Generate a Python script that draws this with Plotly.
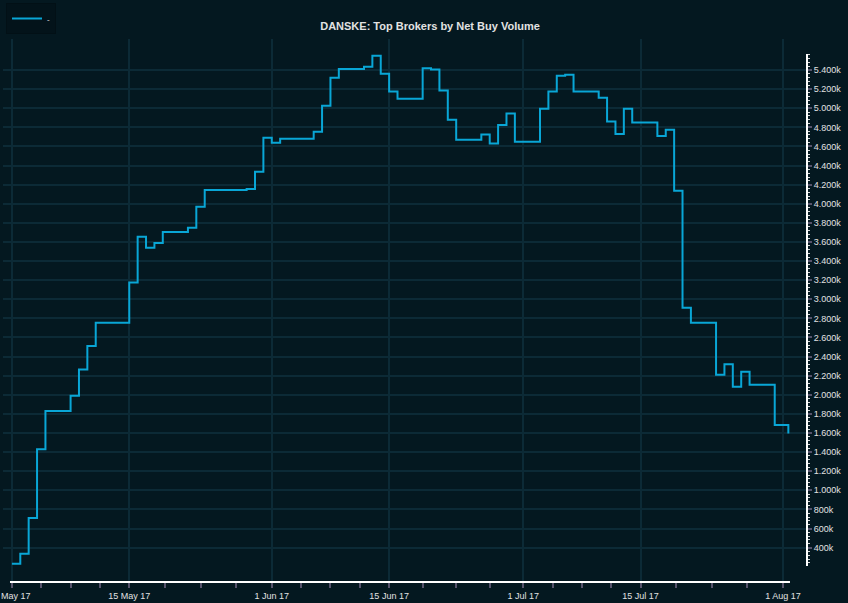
import plotly.graph_objects as go
import pandas as pd
import numpy as np

# ---- data ----
dates = [
    "2017-05-01", "2017-05-02", "2017-05-03", "2017-05-04", "2017-05-05",
    "2017-05-08", "2017-05-09", "2017-05-10", "2017-05-11",
    "2017-05-15", "2017-05-16", "2017-05-17", "2017-05-18", "2017-05-19",
    "2017-05-22", "2017-05-23", "2017-05-24",
    "2017-05-29", "2017-05-30", "2017-05-31", "2017-06-01", "2017-06-02",
    "2017-06-06", "2017-06-07", "2017-06-08", "2017-06-09",
    "2017-06-12", "2017-06-13", "2017-06-14", "2017-06-15", "2017-06-16",
    "2017-06-19", "2017-06-20", "2017-06-21", "2017-06-22", "2017-06-23",
    "2017-06-26", "2017-06-27", "2017-06-28", "2017-06-29", "2017-06-30",
    "2017-07-03", "2017-07-04", "2017-07-05", "2017-07-06", "2017-07-07",
    "2017-07-10", "2017-07-11", "2017-07-12", "2017-07-13", "2017-07-14",
    "2017-07-17", "2017-07-18", "2017-07-19", "2017-07-20", "2017-07-21",
    "2017-07-24", "2017-07-25", "2017-07-26", "2017-07-27", "2017-07-28",
    "2017-07-31", "2017-08-01 15:00",
]
net_buy_volume = [
    230, 335, 710, 1430, 1830,
    1990, 2265, 2510, 2755,
    3175, 3655, 3540, 3590, 3705,
    3750, 3970, 4145,
    4155, 4335, 4690, 4640, 4680,
    4755, 5025, 5320, 5410,
    5435, 5550, 5360, 5175, 5100,
    5420, 5405, 5185, 4880, 4670,
    4725, 4630, 4825, 4945, 4650,
    4995, 5175, 5340, 5350, 5175,
    5110, 4860, 4730, 4995, 4850,
    4710, 4775, 4135, 2910, 2755,
    2210, 2320, 2085, 2240, 2105,
    1685, 1595,
]
series_name = "-"
title_text = "DANSKE: Top Brokers by Net Buy Volume"

x_tick_dates = ["2017-05-01", "2017-05-15", "2017-06-01", "2017-06-15",
                "2017-07-01", "2017-07-15", "2017-08-01"]
x_tick_labels = ["1 May 17", "15 May 17", "1 Jun 17", "15 Jun 17",
                 "1 Jul 17", "15 Jul 17", "1 Aug 17"]
y_tick_vals = [400, 600, 800, 1000, 1200, 1400, 1600, 1800, 2000, 2200, 2400,
               2600, 2800, 3000, 3200, 3400, 3600, 3800, 4000, 4200, 4400,
               4600, 4800, 5000, 5200, 5400]
y_tick_labels = ["400k", "600k", "800k", "1.000k", "1.200k", "1.400k", "1.600k",
                 "1.800k", "2.000k", "2.200k", "2.400k", "2.600k", "2.800k",
                 "3.000k", "3.200k", "3.400k", "3.600k", "3.800k", "4.000k",
                 "4.200k", "4.400k", "4.600k", "4.800k", "5.000k", "5.200k",
                 "5.400k"]

# ---- style ----
BG = "#041820"
GRID = "#0c2a36"
LINE = "#09a6d6"
TXT = "#e2e2e2"
TICK = "#56536c"
FONT = "Liberation Sans, Arial, sans-serif"

# minor ticks: x split each labelled interval in four; y every 40
mt = pd.to_datetime(x_tick_dates)
x_minor = []
for a, b in zip(mt[:-1], mt[1:]):
    for k in (1, 2, 3):
        x_minor.append(a + (b - a) * k / 4)
y_minor = [float(v) for v in np.arange(240, 5561, 40)]

fig = go.Figure()
fig.add_trace(go.Scatter(
    x=pd.to_datetime(dates, format="mixed"), y=net_buy_volume, name=series_name,
    mode="lines", line=dict(color=LINE, width=2, shape="hv"),
    showlegend=True,
))

fig.update_layout(
    width=848, height=603,
    paper_bgcolor=BG, plot_bgcolor=BG,
    margin=dict(l=3, r=41, t=39, b=21, autoexpand=False),
    font=dict(family=FONT, color=TXT, size=9),
    title=dict(text=title_text, xref="container", yref="container",
               x=430 / 848, y=1 - 26 / 603, xanchor="center", yanchor="middle",
               font=dict(family=FONT, size=11, color=TXT, weight="bold")),
    legend=dict(xref="container", yref="container", x=6 / 848, y=1 - 3 / 603,
                xanchor="left", yanchor="top", bgcolor="#03131a",
                bordercolor="#021016", borderwidth=1,
                font=dict(size=8, color=TXT), itemwidth=30,
                tracegroupgap=0),
    xaxis=dict(
        type="date", automargin=False, ticklabeloverflow="allow",
        range=["2017-04-29 22:30", "2017-08-03 20:24"],
        tickmode="array", tickvals=list(mt),
        ticktext=x_tick_labels,
        showgrid=True, gridcolor=GRID, gridwidth=2,
        ticks="outside", ticklen=5, tickcolor=TICK, tickwidth=2,
        minor=dict(tickmode="array", tickvals=x_minor, ticks="outside",
                   ticklen=5, tickcolor=TICK, tickwidth=2, showgrid=False),
        showline=False, zeroline=False,
        tickfont=dict(family=FONT, size=9, color=TXT),
    ),
    yaxis=dict(
        side="right", automargin=False, ticklabeloverflow="allow",
        range=[40, 5725],
        tickmode="array", tickvals=y_tick_vals, ticktext=y_tick_labels,
        showgrid=True, gridcolor=GRID, gridwidth=2,
        ticks="outside", ticklen=4, tickcolor=TICK, tickwidth=2,
        minor=dict(tickmode="array", tickvals=y_minor, ticks="outside",
                   ticklen=2, tickcolor="#d8d8d8", tickwidth=1, showgrid=False),
        showline=False, zeroline=False,
        tickfont=dict(family=FONT, size=9, color=TXT),
    ),
)

# axis lines (Highstock style: shorter than the gridded area)
fig.add_shape(type="line", xref="paper", yref="y", x0=1, x1=1, y0=208, y1=5567,
              line=dict(color="#ffffff", width=2))
fig.add_shape(type="line", xref="x", yref="paper",
              x0="2017-04-30 18:30", x1="2017-08-01 19:40", y0=0, y1=0,
              line=dict(color="#ffffff", width=2))

fig.write_html("out.html",
               config={"displayModeBar": False},
               post_script="document.body.style.margin='0';"
                           "document.body.style.background='" + BG + "';")
